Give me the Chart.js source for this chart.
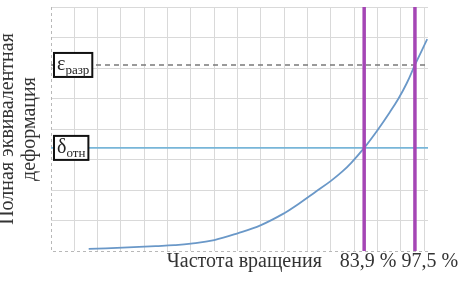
<!DOCTYPE html>
<html>
<head>
<meta charset="utf-8">
<script src="https://cdn.jsdelivr.net/npm/chart.js@4/dist/chart.umd.min.js"></script>
<style>
html, body { margin: 0; padding: 0; background: #fff; }
#wrap { width: 458px; height: 283px; }
</style>
</head>
<body>
<div id="wrap"><canvas id="chart"></canvas></div>
<script>
// curve: rotation frequency (%) vs deformation (grid units)
const curveX = [10.1, 19.2, 28.0, 33.0, 37.5, 43.75, 50.0, 56.25, 62.5, 66.4, 71.0, 75.0, 78.0, 80.5, 83.9, 87.7, 90.5, 93.1, 95.3, 97.5, 100.8];
const curveY = [0.07, 0.11, 0.16, 0.19, 0.24, 0.36, 0.58, 0.85, 1.24, 1.55, 1.95, 2.30, 2.60, 2.90, 3.38, 4.00, 4.50, 5.00, 5.50, 6.10, 6.95];

const limitX = [83.9, 97.5];
const limitLabels = ['83,9 %', '97,5 %'];

const epsRazr = 6.1;
const deltaOtn = 3.38;

const yTitle = ['Полная эквивалентная', 'деформация'];
const xTitle = 'Частота вращения';

const serif = '"Liberation Serif", "Times New Roman", serif';

const toPoints = (xs, ys) => xs.map((x, i) => ({x: x, y: ys[i]}));

const gridColor = (ctx) => ctx.tick && ctx.tick.value === 0 ? 'rgba(0,0,0,0)' : '#d9d9d9';

const drawTag = (ctx, x, yc, main, sub) => {
    ctx.font = '20px ' + serif;
    const w1 = ctx.measureText(main).width;
    ctx.font = '13px ' + serif;
    const w2 = ctx.measureText(sub).width;
    const w = w1 + w2 + 6;
    const h = 24;
    ctx.fillStyle = '#fff';
    ctx.fillRect(x, yc - h / 2, w, h);
    ctx.lineWidth = 2;
    ctx.strokeStyle = '#111';
    ctx.strokeRect(x, yc - h / 2, w, h);
    ctx.fillStyle = '#222';
    ctx.textBaseline = 'alphabetic';
    ctx.textAlign = 'left';
    ctx.font = '20px ' + serif;
    ctx.fillText(main, x + 3, yc + 5);
    ctx.font = '13px ' + serif;
    ctx.fillText(sub, x + 3 + w1, yc + 9);
}

const labelsPlugin = {
    id: 'labelsPlugin',
    beforeDatasetsDraw(chart) {
        // dashed left and bottom frame
        const ctx = chart.ctx;
        const a = chart.chartArea;
        ctx.save();
        ctx.strokeStyle = '#b8b8b8';
        ctx.lineWidth = 1;
        ctx.setLineDash([3, 3]);
        ctx.beginPath();
        ctx.moveTo(a.left + 0.5, a.top);
        ctx.lineTo(a.left + 0.5, a.bottom + 0.5);
        ctx.lineTo(a.right, a.bottom + 0.5);
        ctx.stroke();
        ctx.restore();
    },
    afterDraw(chart) {
        const ctx = chart.ctx;
        const xs = chart.scales.x;
        const ys = chart.scales.y;
        const area = chart.chartArea;
        ctx.save();
        drawTag(ctx, area.left + 3, ys.getPixelForValue(epsRazr), 'ε', 'разр');
        drawTag(ctx, area.left + 3, ys.getPixelForValue(deltaOtn), 'δ', 'отн');

        // bottom row: axis name, then the two limit values
        ctx.font = '20px ' + serif;
        ctx.fillStyle = '#333';
        ctx.textBaseline = 'alphabetic';
        const baseY = area.bottom + 16;
        const w1 = ctx.measureText(limitLabels[0]).width;
        const left1 = xs.getPixelForValue(limitX[0]) + 4 - w1 / 2;
        ctx.textAlign = 'left';
        ctx.fillText(limitLabels[0], left1, baseY);
        ctx.fillText(limitLabels[1], left1 + w1 + 5, baseY);
        ctx.textAlign = 'right';
        ctx.fillText(xTitle, left1 - 18, baseY);
        ctx.restore();
    }
};

const datasets = [];
limitX.forEach((v) => {
    datasets.push({
        data: [{x: v, y: 0}, {x: v, y: 8}],
        borderColor: '#a546b5',
        borderWidth: 3.5,
        pointRadius: 0
    });
});
datasets.push({
    data: toPoints(curveX, curveY),
    borderColor: '#6a98c8',
    borderWidth: 1.8,
    pointRadius: 0,
    tension: 0.4
});
datasets.push({
    data: [{x: 0, y: deltaOtn}, {x: 101, y: deltaOtn}],
    borderColor: '#78b6d8',
    borderWidth: 1.6,
    pointRadius: 0
});
datasets.push({
    data: [{x: 0, y: epsRazr}, {x: 101, y: epsRazr}],
    borderColor: '#7a7a7a',
    borderWidth: 1.4,
    borderDash: [5, 4],
    pointRadius: 0
});

new Chart(document.getElementById('chart'), {
    type: 'line',
    data: {datasets: datasets},
    options: {
        responsive: true,
        maintainAspectRatio: false,
        animation: false,
        devicePixelRatio: 1,
        layout: {padding: {top: 7, right: 30, bottom: 32, left: 0}},
        plugins: {legend: {display: false}, tooltip: {enabled: false}},
        scales: {
            x: {
                type: 'linear',
                min: 0,
                max: 101,
                ticks: {display: false, stepSize: 6.25, includeBounds: false},
                grid: {color: gridColor, drawTicks: false},
                border: {display: false}
            },
            y: {
                min: 0,
                max: 8,
                ticks: {display: false, stepSize: 1},
                grid: {color: gridColor, drawTicks: false},
                border: {display: false},
                title: {
                    display: true,
                    text: yTitle,
                    color: '#333',
                    font: {family: serif, size: 20, lineHeight: 1.1},
                    padding: {top: -3, bottom: 10}
                }
            }
        }
    },
    plugins: [labelsPlugin]
});
</script>
</body>
</html>
